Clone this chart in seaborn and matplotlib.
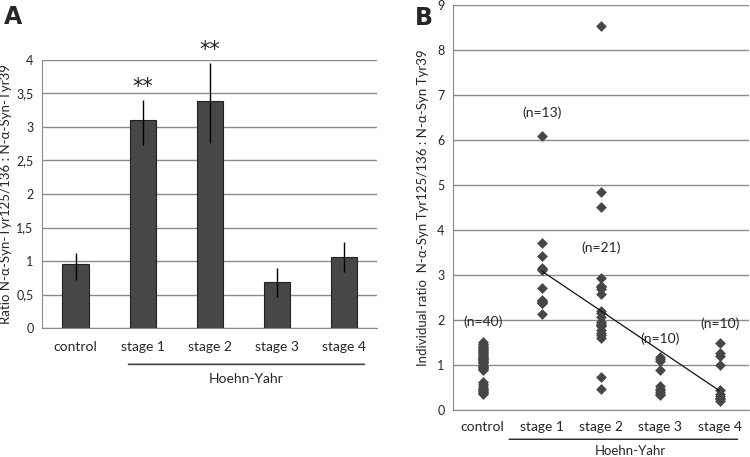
import numpy as np
import pandas as pd
import matplotlib
matplotlib.use('Agg')
import matplotlib.pyplot as plt
import seaborn as sns
from matplotlib.ticker import FuncFormatter

groups = ['control', 'stage 1', 'stage 2', 'stage 3', 'stage 4']

# painel A - médias e barras de erro
ratio_mean = [0.95, 3.10, 3.39, 0.69, 1.06]
err_low = [0.23, 0.37, 0.63, 0.23, 0.22]
err_high = [0.17, 0.30, 0.56, 0.21, 0.22]
stars = ['', '**', '**', '', '']

# painel B - valores individuais
control_vals = [1.50, 1.47, 1.45, 1.42, 1.40, 1.38, 1.35, 1.33, 1.30, 1.28,
                1.26, 1.24, 1.22, 1.20, 1.18, 1.15, 1.13, 1.12, 1.10, 1.08,
                1.06, 1.05, 1.03, 1.00, 0.98, 0.96, 0.94, 0.92, 0.90, 0.88,
                0.62, 0.58, 0.52, 0.48, 0.45, 0.43, 0.41, 0.39, 0.37, 0.35]
stage1_vals = [6.08, 3.71, 3.41, 3.15, 3.12, 3.10, 2.70, 2.43, 2.41, 2.40,
               2.38, 2.37, 2.12]
stage2_vals = [8.52, 4.84, 4.51, 2.92, 2.75, 2.72, 2.68, 2.58, 2.20, 2.15,
               2.05, 1.95, 1.90, 1.88, 1.85, 1.78, 1.70, 1.65, 1.60, 0.72, 0.46]
stage3_vals = [1.18, 1.12, 1.08, 0.88, 0.52, 0.47, 0.44, 0.40, 0.36, 0.33]
stage4_vals = [1.49, 1.27, 1.20, 1.00, 0.44, 0.36, 0.30, 0.27, 0.23, 0.20]
n_labels = ['(n=40)', '(n=13)', '(n=21)', '(n=10)', '(n=10)']
n_label_y = [1.95, 6.6, 3.6, 1.57, 1.9]
trend_y = [3.08, 0.42]  # linha de tendência stage 1 -> stage 4

sns.set_style('white')
plt.rcParams['font.family'] = ['Lato', 'DejaVu Sans']

fig = plt.figure(figsize=(7.5, 4.57), dpi=100)
axA = fig.add_axes([0.056, 0.282, 0.447, 0.587])
axB = fig.add_axes([0.604, 0.1035, 0.395, 0.886])

grid_c = '#8a8a8a'
tick_fs = 9
lab_fs = 10

#gráfico A - barras
dfA = pd.DataFrame({'group': groups, 'ratio': ratio_mean})
sns.barplot(data=dfA, x='group', y='ratio', color='#474747', edgecolor='#222222',
            linewidth=0.8, width=0.39, saturation=1, ax=axA, zorder=3)
axA.errorbar(np.arange(len(groups)), ratio_mean, yerr=[err_low, err_high],
             fmt='none', ecolor='black', elinewidth=1.0, capsize=0, zorder=4)
for i, s in enumerate(stars):
    if s:
        axA.text(i, ratio_mean[i] + err_high[i] + 0.05, s, ha='center', va='bottom',
                 fontsize=15, color='#222222', family='DejaVu Sans')
axA.set_ylim(0, 4)
axA.set_xlim(-0.5, 4.5)
axA.set_yticks(np.arange(0, 4.01, 0.5))
axA.yaxis.set_major_formatter(FuncFormatter(lambda v, p: f'{v:g}'.replace('.', ',')))
axA.grid(axis='y', color=grid_c, linewidth=1.0, zorder=0)
axA.set_axisbelow(True)
for sp in ['top', 'right']:
    axA.spines[sp].set_visible(False)
for sp in ['left', 'bottom']:
    axA.spines[sp].set_color(grid_c)
axA.set_xlabel('')
axA.set_ylabel('Ratio N-α-Syn-Tyr125/136 : N-α-Syn-Tyr39', fontsize=9.5, labelpad=3)
axA.tick_params(axis='both', length=0, labelsize=tick_fs, pad=6)
axA.tick_params(axis='x', pad=9, labelsize=lab_fs)
axA.annotate('', xy=(0.25, -0.135), xytext=(0.97, -0.135), xycoords='axes fraction',
             arrowprops=dict(arrowstyle='-', color='#444444', lw=1.2))
axA.text(0.61, -0.19, 'Hoehn-Yahr', transform=axA.transAxes, ha='center', va='center',
         fontsize=lab_fs)

#gráfico B - valores individuais
all_vals = [control_vals, stage1_vals, stage2_vals, stage3_vals, stage4_vals]
dfB = pd.DataFrame({'group': np.repeat(groups, [len(v) for v in all_vals]),
                    'ratio': np.concatenate(all_vals)})
sns.stripplot(data=dfB, x='group', y='ratio', jitter=False, marker='D', size=5.5,
              color='#464646', linewidth=0, ax=axB, zorder=3)
axB.plot([1, 4], trend_y, color='#111111', linewidth=0.9, zorder=4)
for i, lab in enumerate(n_labels):
    axB.text(i, n_label_y[i], lab, ha='center', va='center', fontsize=lab_fs, zorder=5)
axB.set_ylim(0, 9)
axB.set_xlim(-0.5, 4.5)
axB.set_yticks(range(0, 10))
axB.grid(axis='y', color=grid_c, linewidth=1.0, zorder=0)
axB.set_axisbelow(True)
for sp in ['top', 'right']:
    axB.spines[sp].set_visible(False)
for sp in ['left', 'bottom']:
    axB.spines[sp].set_color(grid_c)
axB.set_xlabel('')
axB.set_ylabel('Individual ratio  N-α-Syn Tyr125/136 : N-α-Syn Tyr39', fontsize=9.5,
               labelpad=6)
axB.tick_params(axis='both', length=0, labelsize=tick_fs, pad=6)
axB.tick_params(axis='x', pad=8, labelsize=lab_fs)
axB.annotate('', xy=(0.18, -0.073), xytext=(0.97, -0.073), xycoords='axes fraction',
             arrowprops=dict(arrowstyle='-', color='#222222', lw=1.0))
axB.text(0.6, -0.103, 'Hoehn-Yahr', transform=axB.transAxes, ha='center', va='center',
         fontsize=9.5)

fig.text(0.005, 0.948, 'A', fontsize=17, fontweight='bold', family='DejaVu Sans')
fig.text(0.553, 0.945, 'B', fontsize=17, fontweight='bold', family='DejaVu Sans')

fig.savefig('out.png', dpi=100)
